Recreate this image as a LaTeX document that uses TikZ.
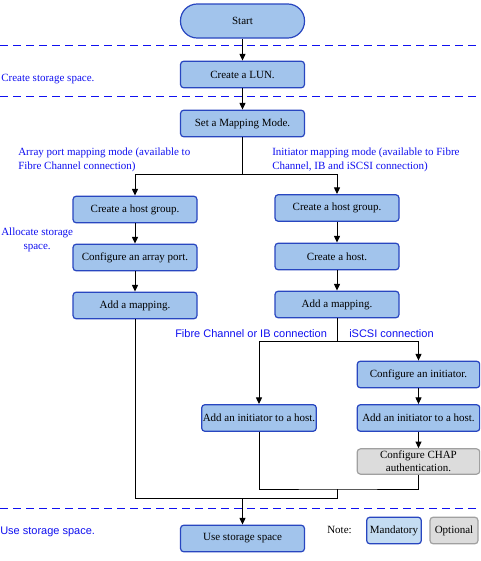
\documentclass[tikz,border=0pt]{standalone}
\usepackage{fontspec}
\setmainfont{Liberation Serif}
\newfontfamily\arialf{Liberation Sans}
\usetikzlibrary{arrows.meta}
\definecolor{boxfill}{HTML}{A2C4EC}
\definecolor{boxdraw}{HTML}{2846C0}
\definecolor{mandfill}{HTML}{C4DCF2}
\definecolor{grayfill}{HTML}{DCDCDC}
\definecolor{graydraw}{HTML}{A0A0A0}
\definecolor{lblue}{HTML}{1010F0}
\tikzset{
  stepbox/.style={draw=boxdraw,fill=boxfill,line width=0.9pt,rounded corners=2.5pt,
    minimum width=93pt,minimum height=20pt,inner sep=0pt,align=center,
    font=\fontsize{8.25pt}{9.5pt}\selectfont},
  optbox/.style={stepbox,draw=graydraw,fill=grayfill},
  startbox/.style={stepbox,rounded corners=12.5pt,minimum height=25.5pt},
  lbl/.style={text=lblue,font=\fontsize{8.25pt}{10pt}\selectfont,align=left,inner sep=0pt},
  slbl/.style={text=lblue,font=\arialf\fontsize{8.25pt}{10pt}\selectfont,inner sep=0pt},
  conn/.style={line width=0.75pt,black},
  arr/.style={conn,-{Triangle[length=5pt,width=4.5pt]}},
  sep/.style={draw=lblue,line width=0.75pt,dash pattern=on 6pt off 3.75pt},
}
\begin{document}
\begin{tikzpicture}[x=0.75pt,y=-0.75pt]
\useasboundingbox (0,0) rectangle (480,561);
\clip (0,0) rectangle (480,561);
\fill[white] (0,0) rectangle (480,561);
% separators
\draw[sep] (0,45) -- (480,45);
\draw[sep] (0,96) -- (480,96);
\draw[sep] (0,508) -- (480,508);
% nodes
\node[startbox] (start) at (242.5,21) {Start};
\node[stepbox] (lun) at (242.5,74.5) {Create a LUN.};
\node[stepbox] (mode) at (242.5,123.5) {Set a Mapping Mode.};
\node[stepbox] (lhg) at (135,209.5) {Create a host group.};
\node[stepbox] (lport) at (135,257.5) {Configure an array port.};
\node[stepbox] (lmap) at (135,305.5) {Add a mapping.};
\node[stepbox] (rhg) at (337,208) {Create a host group.};
\node[stepbox] (rhost) at (337,256.5) {Create a host.};
\node[stepbox] (rmap) at (337,304.5) {Add a mapping.};
\node[stepbox,minimum width=86pt] (finit) at (259,418) {Add an initiator to a host.};
\node[stepbox,minimum width=92pt] (cinit) at (418.5,374.5) {Configure an initiator.};
\node[stepbox,minimum width=92pt] (iinit) at (418.5,418) {Add an initiator to a host.};
\node[optbox,minimum width=92pt,minimum height=19pt] (chap) at (418.5,461.5) {Configure CHAP\\authentication.};
\node[stepbox] (use) at (242.5,538.5) {Use storage space};
% labels
\node[lbl,anchor=west] (l1) at (1,79) {Create storage space.};
\node[lbl,align=center,anchor=west] (l4) at (1,240) {Allocate storage\\space.};
\node[lbl,anchor=north west] (l2) at (18,148) {Array port mapping mode (available to\\Fibre Channel connection)};
\node[lbl,anchor=north west] (l3) at (272,148) {Initiator mapping mode (available to Fibre\\Channel, IB and iSCSI connection)};
\node[slbl,anchor=west] (l5) at (175,334) {Fibre Channel or IB connection};
\node[slbl,anchor=west] (l6) at (349,334) {iSCSI connection};
\node[slbl,anchor=west] (l7) at (0,532) {Use storage space.};
\node[lbl,text=black,anchor=west] (note) at (327,530) {Note:};
\node[stepbox,fill=mandfill,minimum width=41pt,minimum height=20pt] (mand) at (394,530.5) {Mandatory};
\node[optbox,minimum width=36pt,minimum height=20pt] (opt) at (454,530.5) {Optional};
% coordinates
\coordinate (split1) at (242.5,174);
\coordinate (split2) at (337,341);
\coordinate (j1) at (337,489);
\coordinate (j2) at (242.5,498);
% connectors
\draw[arr] (start) -- (lun);
\draw[arr] (lun) -- (mode);
\draw[conn] (mode) -- (split1);
\draw[arr] (split1) -| (lhg);
\draw[arr] (split1) -| (rhg);
\draw[arr] (lhg) -- (lport);
\draw[arr] (lport) -- (lmap);
\draw[arr] (rhg) -- (rhost);
\draw[arr] (rhost) -- (rmap);
\draw[conn] (rmap) -- (split2);
\draw[arr] (split2) -| (finit);
\draw[arr] (split2) -| (cinit);
\draw[arr] (cinit) -- (iinit);
\draw[arr] (iinit) -- (chap);
\draw[conn] (finit.south) |- (j1) -| (chap.south);
\draw[conn] (j1) |- (j2);
\draw[conn] (lmap.south) |- (j2);
\draw[arr] (j2) -- (use);
\end{tikzpicture}
\end{document}
